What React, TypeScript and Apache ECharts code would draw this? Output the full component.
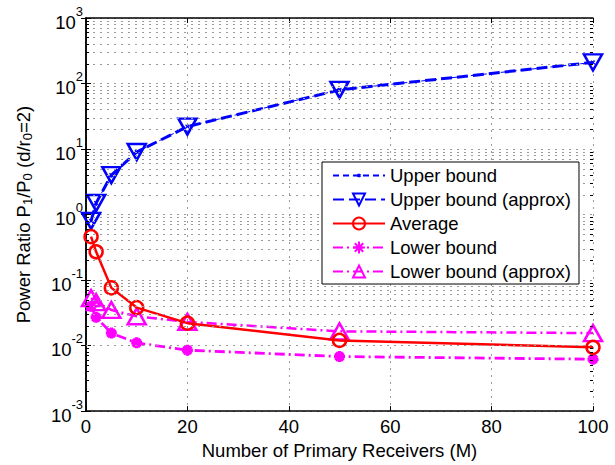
import React, { useEffect, useRef } from "react";
import * as echarts from "echarts";

const xValues = [1, 2, 5, 10, 20, 50, 100];
const upperBound = [0.8, 1.5, 4, 9, 22, 80, 210];
const upperBoundApprox = [0.8, 1.5, 4, 9, 22, 80, 210];
const average = [0.46, 0.27, 0.076, 0.038, 0.022, 0.012, 0.0094];
const lowerBound = [0.04, 0.027, 0.0155, 0.011, 0.0085, 0.0068, 0.0062];
const lowerBoundApprox = [0.053, 0.046, 0.035, 0.028, 0.023, 0.0165, 0.0155];

const seriesNames = [
  "Upper bound",
  "Upper bound (approx)",
  "Average",
  "Lower bound",
  "Lower bound (approx)",
];

const yMin = 1e-3;
const yMax = 1e3;

const FONT = "Liberation Sans, Arial, Helvetica, sans-serif";
const FS = 18.5;
const BLUE = "#0000ff";
const RED = "#ff0000";
const MAGENTA = "#ff00ff";
const GRID = "#9a9a9a";

// padded cross so that the drawn "x" is small inside its symbol box
const crossPath = "path://M-8,-8M18,18M2,2L8,8M8,2L2,8";
const starPath = "path://M5,0L5,10M0,5L10,5M1.5,1.5L8.5,8.5M8.5,1.5L1.5,8.5";

function pairs(ys: number[]) {
  return xValues.map((x, i) => [x, ys[i]]);
}

export default function App() {
  const ref = useRef<HTMLDivElement>(null);
  useEffect(() => {
    if (!ref.current) return;
    const chart = echarts.init(ref.current, undefined, { renderer: "svg" });

    const minorVals: number[] = [];
    for (let e = -3; e < 3; e++) {
      for (let m = 2; m <= 9; m++) minorVals.push(m * Math.pow(10, e));
    }
    const gridLines = minorVals.map((v) => ({ yAxis: v }));
    const minorTickSegs: any[] = [];
    minorVals.forEach((v) => {
      minorTickSegs.push([{ coord: [0, v] }, { coord: [0.6, v] }]);
      minorTickSegs.push([{ coord: [99.4, v] }, { coord: [100, v] }]);
    });

    const dashDot = [10, 4, 2, 4];

    chart.setOption({
      animation: false,
      backgroundColor: "#ffffff",
      textStyle: { fontFamily: FONT, fontSize: FS },
      grid: { left: 86, right: 22, top: 18, bottom: 47, containLabel: false },
      legend: {
        data: seriesNames,
        orient: "vertical",
        left: 322,
        top: 162,
        backgroundColor: "#ffffff",
        borderColor: "#000000",
        borderWidth: 1,
        borderRadius: 0,
        padding: [4, 8, 3, 10],
        itemWidth: 52,
        itemHeight: 15,
        itemGap: 5,
        textStyle: { fontSize: FS, color: "#000", fontFamily: FONT },
        z: 10,
      },
      xAxis: [
        {
          type: "value",
          min: 0,
          max: 100,
          interval: 20,
          position: "bottom",
          name: "Number of Primary Receivers (M)",
          nameLocation: "middle",
          nameGap: 27,
          nameTextStyle: { fontSize: FS, color: "#000", fontFamily: FONT },
          axisLine: { show: true, lineStyle: { color: "#000", width: 1.5 } },
          axisTick: { show: true, inside: true, length: 5, lineStyle: { color: "#000" } },
          axisLabel: { fontSize: FS, color: "#000", margin: 6, fontFamily: FONT },
          splitLine: { show: true, lineStyle: { color: GRID, type: [2, 5], width: 1 } },
        },
        {
          type: "value",
          min: 0,
          max: 100,
          interval: 20,
          position: "top",
          axisLine: { show: true, lineStyle: { color: "#000", width: 1.5 } },
          axisTick: { show: true, inside: true, length: 5, lineStyle: { color: "#000" } },
          axisLabel: { show: false },
          splitLine: { show: false },
        },
      ],
      yAxis: [
        {
          type: "log",
          logBase: 10,
          min: yMin,
          max: yMax,
          position: "left",
          name: "Power Ratio P{sub|1}/P{sub|0} (d/r{sub|0}=2)",
          nameLocation: "middle",
          nameGap: 52,
          nameRotate: 90,
          nameTextStyle: {
            fontSize: FS,
            color: "#000",
            fontFamily: FONT,
            rich: {
              sub: { fontSize: 13, verticalAlign: "bottom", padding: [8, 0, 0, 0], fontFamily: FONT, color: "#000" },
            },
          },
          axisLine: { show: true, lineStyle: { color: "#000", width: 1.5 } },
          axisTick: { show: true, inside: true, length: 5, lineStyle: { color: "#000" } },
          axisLabel: {
            margin: 3,
            fontFamily: FONT,
            formatter: (v: number) => `{b|10}{s|${Math.round(Math.log10(v))}}`,
            rich: {
              b: { fontSize: FS, color: "#000", fontFamily: FONT, verticalAlign: "bottom", padding: [8, 0, 0, 0] },
              s: { fontSize: 13, color: "#000", fontFamily: FONT, verticalAlign: "top" },
            },
          },
          splitLine: { show: true, lineStyle: { color: GRID, type: [2, 5], width: 1 } },
        },
        {
          type: "log",
          logBase: 10,
          min: yMin,
          max: yMax,
          position: "right",
          axisLine: { show: true, lineStyle: { color: "#000", width: 1.5 } },
          axisTick: { show: true, inside: true, length: 5, lineStyle: { color: "#000" } },
          axisLabel: { show: false },
          splitLine: { show: false },
        },
      ],
      series: [
        {
          name: "_grid",
          type: "line",
          data: [],
          z: 1,
          silent: true,
          markLine: {
            silent: true,
            symbol: "none",
            label: { show: false },
            lineStyle: { color: GRID, type: [2, 5], width: 1 },
            data: gridLines,
          },
        },
        {
          name: "_ticks",
          type: "line",
          data: [],
          z: 1,
          silent: true,
          markLine: {
            silent: true,
            symbol: "none",
            label: { show: false },
            lineStyle: { color: "#000", type: "solid", width: 1 },
            data: minorTickSegs,
          },
        },
        {
          name: "Upper bound",
          type: "line",
          data: pairs(upperBound),
          color: BLUE,
          z: 3,
          symbol: crossPath,
          symbolSize: 16,
          showAllSymbol: true,
          lineStyle: { color: BLUE, width: 1, type: [6, 4] },
          itemStyle: { color: "none", borderColor: BLUE, borderWidth: 1.2 },
        },
        {
          name: "Upper bound (approx)",
          type: "line",
          data: pairs(upperBoundApprox),
          color: BLUE,
          z: 3,
          symbol: "triangle",
          symbolRotate: 180,
          symbolSize: [18, 16],
          lineStyle: { color: BLUE, width: 3, type: [11, 5] },
          itemStyle: { color: "none", borderColor: BLUE, borderWidth: 2.5 },
        },
        {
          name: "Average",
          type: "line",
          data: pairs(average),
          color: RED,
          z: 4,
          symbol: "circle",
          symbolSize: 13,
          lineStyle: { color: RED, width: 2.5, type: "solid" },
          itemStyle: { color: "none", borderColor: RED, borderWidth: 2.5 },
        },
        {
          name: "Lower bound",
          type: "line",
          data: pairs(lowerBound),
          color: MAGENTA,
          z: 3,
          symbol: starPath,
          symbolSize: 11,
          lineStyle: { color: MAGENTA, width: 2.8, type: dashDot },
          itemStyle: { color: MAGENTA, borderColor: MAGENTA, borderWidth: 3.5 },
        },
        {
          name: "Lower bound (approx)",
          type: "line",
          data: pairs(lowerBoundApprox),
          color: MAGENTA,
          z: 3,
          symbol: "triangle",
          symbolSize: [18, 16],
          lineStyle: { color: MAGENTA, width: 2.5, type: dashDot },
          itemStyle: { color: "none", borderColor: MAGENTA, borderWidth: 2.5 },
        },
      ],
    });
    return () => chart.dispose();
  }, []);

  return (
    <div
      ref={ref}
      style={{ position: "fixed", left: 0, top: 0, width: 615, height: 465, background: "#fff" }}
    />
  );
}
